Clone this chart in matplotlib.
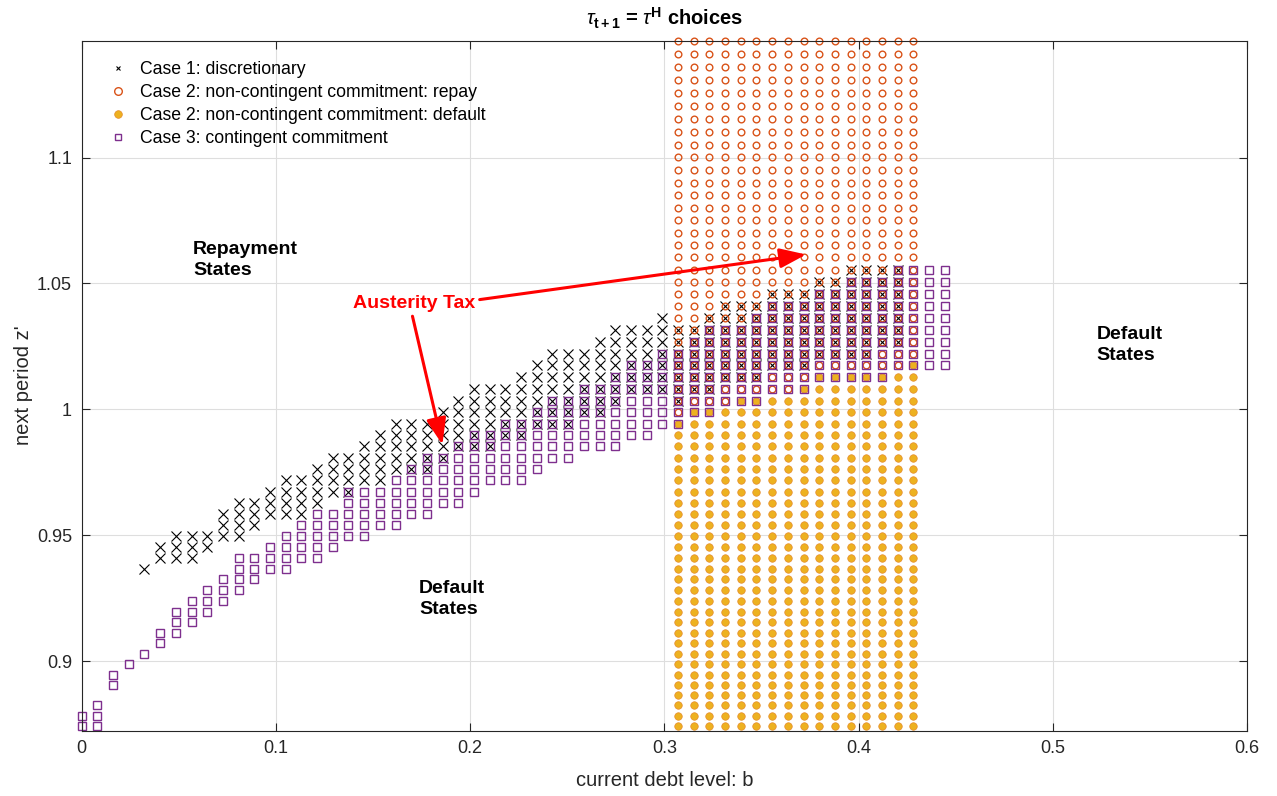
import numpy as np
import matplotlib
matplotlib.use("Agg")
import matplotlib.pyplot as plt
from matplotlib.lines import Line2D

plt.rcParams["font.family"] = ["Liberation Sans", "DejaVu Sans"]
plt.rcParams["mathtext.fontset"] = "custom"
plt.rcParams["mathtext.rm"] = "Liberation Sans"
plt.rcParams["mathtext.it"] = "Liberation Sans:italic"
plt.rcParams["mathtext.bf"] = "Liberation Sans:bold"

# debt grid b (columns) and productivity grid z (rows, bottom to top)
b_grid = [0.0, 0.00808, 0.01616, 0.02424, 0.03232, 0.0404, 0.04848, 0.05656,
          0.06464, 0.07272, 0.0808, 0.08888, 0.09696, 0.10504, 0.11312, 0.1212,
          0.12928, 0.13736, 0.14544, 0.15352, 0.1616, 0.16968, 0.17776, 0.18584,
          0.19392, 0.202, 0.21008, 0.21816, 0.22624, 0.23432, 0.2424, 0.25048,
          0.25856, 0.26664, 0.27472, 0.2828, 0.29088, 0.29896, 0.30704, 0.31512,
          0.3232, 0.33128, 0.33936, 0.34744, 0.35552, 0.3636, 0.37168, 0.37976,
          0.38784, 0.39592, 0.404, 0.41208, 0.42016, 0.42824, 0.43632, 0.4444]
z_grid = [0.87441, 0.87843, 0.88248, 0.88654, 0.89062, 0.89472, 0.89884, 0.90298,
          0.90714, 0.91132, 0.91552, 0.91973, 0.92396, 0.92821, 0.93248, 0.93677,
          0.94108, 0.94541, 0.94976, 0.95413, 0.95852, 0.96293, 0.96736, 0.97181,
          0.97628, 0.98077, 0.98528, 0.98981, 0.99436, 0.99893, 1.00353, 1.00815,
          1.01279, 1.01745, 1.02213, 1.02683, 1.03155, 1.0363, 1.04107, 1.04586,
          1.05067, 1.05551, 1.06037, 1.06525, 1.07015, 1.07507, 1.08002, 1.08499,
          1.08998, 1.095, 1.10004, 1.1051, 1.11018, 1.11529, 1.12042, 1.12558,
          1.13076, 1.13596, 1.14119, 1.14644]

# Case 1 (discretionary): z-index range per b column, starting at column 4
disc_first_col = 4
disc_lo = [15, 16, 16, 16, 17, 18, 18, 19, 20, 20, 20, 21, 22, 22, 23, 23, 24, 24,
           24, 25, 26, 26, 26, 27, 27, 28, 28, 28, 29, 29, 30, 31, 31, 31, 30, 31,
           31, 32, 32, 32, 33, 33, 33, 34, 34, 34, 34, 35, 35]
disc_hi = [15, 17, 18, 18, 18, 20, 21, 21, 22, 23, 23, 24, 25, 25, 26, 27, 28, 28,
           28, 29, 30, 31, 31, 31, 32, 33, 34, 34, 34, 35, 36, 36, 36, 37, 36, 36,
           37, 38, 38, 38, 39, 39, 39, 40, 40, 41, 41, 41, 41]

# Case 2 (non-contingent): columns 38..53, repay from this z-index upward, default below
nc_first_col = 38
nc_repay_from = [29, 30, 30, 30, 31, 31, 31, 31, 32, 33, 33, 33, 33, 33, 33, 34]

# Case 3 (contingent commitment): z-index range per b column, starting at column 0
cont_lo = [0, 0, 4, 6, 7, 8, 9, 10, 11, 12, 13, 14, 15, 15, 16, 16, 17, 18, 18, 19,
           19, 20, 20, 21, 21, 22, 23, 23, 23, 24, 25, 25, 26, 26, 26, 27, 27, 28,
           28, 29, 29, 30, 30, 30, 31, 31, 31, 32, 32, 32, 32, 32, 33, 33, 33, 33]
cont_hi = [1, 2, 5, 6, 7, 9, 11, 12, 13, 14, 16, 16, 17, 18, 19, 20, 20, 22, 22, 22,
           23, 24, 25, 25, 26, 27, 27, 28, 28, 29, 30, 30, 31, 31, 32, 33, 33, 34,
           34, 35, 36, 36, 36, 37, 38, 38, 38, 39, 39, 40, 40, 40, 41, 41, 41, 41]


def cells(first_col, lo, hi):
    xs, ys = [], []
    for i, (a, c) in enumerate(zip(lo, hi)):
        for k in range(a, c + 1):
            xs.append(b_grid[first_col + i])
            ys.append(z_grid[k])
    return xs, ys


disc_x, disc_y = cells(disc_first_col, disc_lo, disc_hi)
rep_x, rep_y = cells(nc_first_col, nc_repay_from, [len(z_grid) - 1] * len(nc_repay_from))
def_x, def_y = cells(nc_first_col, [0] * len(nc_repay_from), [r - 1 for r in nc_repay_from])
cont_x, cont_y = cells(0, cont_lo, cont_hi)

c_orange = (0.85, 0.325, 0.098)
c_yellow = (0.929, 0.694, 0.125)
c_purple = (0.494, 0.184, 0.556)
c_axis = "#262626"

fig = plt.figure(figsize=(12.77, 7.96), dpi=100)
ax = fig.add_axes([0.064, 0.082, 0.9125, 0.867])

# markers are not clipped at the axes edges
ax.plot(disc_x, disc_y, "x", color="k", ms=6.8, mew=0.8, ls="none", clip_on=False)
ax.plot(rep_x, rep_y, "o", mfc="none", mec=c_orange, ms=4.8, mew=1.0, ls="none",
        clip_on=False)
ax.plot(def_x, def_y, "o", mfc=c_yellow, mec="#e58a2a", ms=5.4, mew=0.5, ls="none",
        clip_on=False)
ax.plot(cont_x, cont_y, "s", mfc="none", mec=c_purple, ms=6.2, mew=1.0, ls="none",
        clip_on=False)

ax.set_xlim(0, 0.6)
ax.set_ylim(0.87242, 1.14644)
ax.set_xticks([0, 0.1, 0.2, 0.3, 0.4, 0.5, 0.6])
ax.set_xticklabels(["0", "0.1", "0.2", "0.3", "0.4", "0.5", "0.6"])
ax.set_yticks([0.9, 0.95, 1.0, 1.05, 1.1])
ax.set_yticklabels(["0.9", "0.95", "1", "1.05", "1.1"])
ax.grid(True, color="#dedede", lw=0.8)
ax.set_axisbelow(True)
ax.tick_params(direction="in", length=6, width=0.8, top=True, right=True,
               labelsize=13, colors=c_axis, pad=7)
for s in ax.spines.values():
    s.set_color(c_axis)
    s.set_linewidth(0.8)

ax.set_xlabel("current debt level: b", fontsize=14.5, color=c_axis, labelpad=10)
ax.set_ylabel("next period z'", fontsize=14.5, color=c_axis, labelpad=3)
ax.set_title(r"$\tau_{\mathbf{t+1}}$ = $\tau^{\mathbf{H}}$ choices", fontsize=14.5,
             fontweight="bold", color="k", pad=11)

handles = [
    Line2D([], [], ls="none", marker="x", color="k", ms=3.5, mew=0.8),
    Line2D([], [], ls="none", marker="o", mfc="none", mec=c_orange, ms=5.5, mew=1.0),
    Line2D([], [], ls="none", marker="o", mfc=c_yellow, mec="#e58a2a", ms=5.5, mew=0.5),
    Line2D([], [], ls="none", marker="s", mfc="none", mec=c_purple, ms=4.5, mew=1.0),
]
labels = ["Case 1: discretionary",
          "Case 2: non-contingent commitment: repay",
          "Case 2: non-contingent commitment: default",
          "Case 3: contingent commitment"]
ax.legend(handles, labels, loc="upper left", bbox_to_anchor=(0.025, 0.970),
          frameon=False, fontsize=12.7, handlelength=0.8, handletextpad=0.85,
          labelspacing=0.33, borderpad=0, borderaxespad=0)

# region labels
ax.text(0.0573, 1.0593, "Repayment\nStates", fontsize=14, fontweight="bold",
        ha="left", va="center", linespacing=1.28)
ax.text(0.1736, 0.9246, "Default\nStates", fontsize=14, fontweight="bold",
        ha="left", va="center", linespacing=1.28)
ax.text(0.5224, 1.0255, "Default\nStates", fontsize=14, fontweight="bold",
        ha="left", va="center", linespacing=1.28)

# austerity tax annotation with two arrows
ax.text(0.1396, 1.0420, "Austerity Tax", fontsize=14, fontweight="bold",
        color="red", ha="left", va="center")
arrow = dict(arrowstyle="-|>,head_length=0.8,head_width=0.3", color="red",
             lw=2.2, mutation_scale=20, shrinkA=0, shrinkB=0)
ax.annotate("", xy=(0.3730, 1.0615), xytext=(0.2049, 1.0436), arrowprops=arrow)
ax.annotate("", xy=(0.1857, 0.9860), xytext=(0.1703, 1.0370), arrowprops=arrow)

fig.savefig("out.png", dpi=100)
